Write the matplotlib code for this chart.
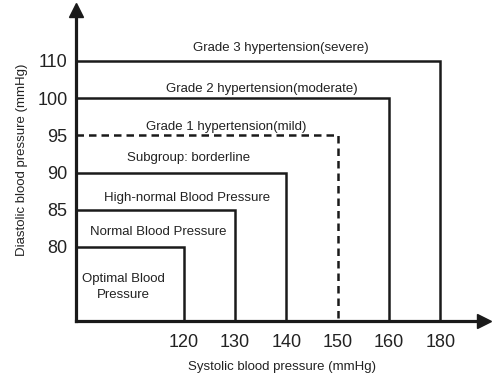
import matplotlib
matplotlib.use("Agg")
import matplotlib.pyplot as plt

plt.rcParams['font.family'] = ['Liberation Sans', 'DejaVu Sans']

# Data
systolic_ticks = [120, 130, 140, 150, 160, 180]
diastolic_ticks = [80, 85, 90, 95, 100, 110]
box_systolic = [120, 130, 140, 150, 160, 180]
box_diastolic = [80, 85, 90, 95, 100, 110]
box_dashed = [False, False, False, True, False, False]
labels = ["Optimal Blood\nPressure", "Normal Blood Pressure",
          "High-normal Blood Pressure", "Subgroup: borderline",
          "Grade 1 hypertension(mild)", "Grade 2 hypertension(moderate)",
          "Grade 3 hypertension(severe)"]

# Layout (ordinal data coordinates for label centers)
label_pos = [(-1.17, -1.08), (-0.49, 0.40), (0.07, 1.32), (0.10, 2.39),
             (0.83, 3.23), (1.53, 4.25), (1.90, 5.35)]

W, H = 496, 383
fig = plt.figure(figsize=(W / 100, H / 100), dpi=100)
ax = fig.add_axes([76 / W, (H - 321.4) / H, (484 - 76) / W, (321.4 - 10) / H])

x0, y0 = -2.1, -2.0
ax.set_xlim(x0, 5.85)
ax.set_ylim(y0, 6.37)

xi = {v: i for i, v in enumerate(systolic_ticks)}
yi = {v: i for i, v in enumerate(diastolic_ticks)}

line_col = '#1a1a1a'
text_col = '#222222'

for s, d, dashed in zip(box_systolic, box_diastolic, box_dashed):
    x1, y1 = xi[s], yi[d]
    ls = (0, (3, 2)) if dashed else '-'
    ax.plot([x0, x1, x1], [y1, y1, y0], color=line_col, lw=1.8, ls=ls,
            solid_joinstyle='miter', solid_capstyle='butt', dash_capstyle='butt')

for (px, py), t in zip(label_pos, labels):
    ax.text(px, py, t, ha='center', va='center', fontsize=9.5, color=text_col,
            linespacing=1.4)

for side in ['top', 'right']:
    ax.spines[side].set_visible(False)
for side in ['left', 'bottom']:
    ax.spines[side].set_linewidth(2.3)
    ax.spines[side].set_color(line_col)

ax.set_xticks(range(len(systolic_ticks)))
ax.set_xticklabels([str(v) for v in systolic_ticks])
ax.set_yticks(range(len(diastolic_ticks)))
ax.set_yticklabels([str(v) for v in diastolic_ticks])
ax.tick_params(length=0, labelsize=13, colors=text_col, pad=6)
ax.tick_params(axis='x', pad=9)

# arrows
ax.plot([1], [0], marker='>', markersize=10, color=line_col, transform=ax.transAxes,
        clip_on=False)
ax.plot([0], [1], marker='^', markersize=10, color=line_col, transform=ax.transAxes,
        clip_on=False)

fig.text(282 / W, 1 - 367 / H, "Systolic blood pressure (mmHg)", ha='center',
         va='center', fontsize=9.5, color=text_col)
fig.text(22 / W, 1 - 160 / H, "Diastolic blood pressure (mmHg)", ha='center',
         va='center', rotation=90, fontsize=9.5, color=text_col)

fig.savefig("out.png", dpi=100)
